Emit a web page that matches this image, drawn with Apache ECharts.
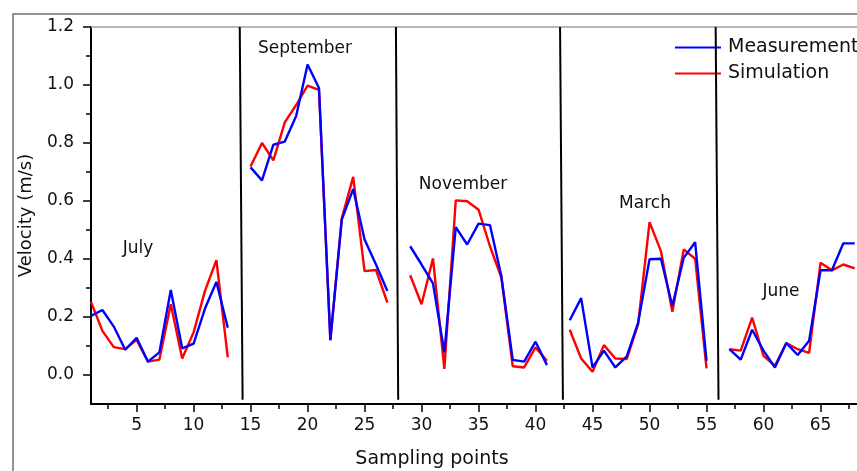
<!DOCTYPE html>
<html>
<head>
<meta charset="utf-8">
<title>Velocity: measurement vs simulation</title>
<script src="https://cdn.jsdelivr.net/npm/echarts@6/dist/echarts.min.js"></script>
<style>
  html, body { margin: 0; padding: 0; background: #fff; }
  #chart { width: 857px; height: 471px; }
</style>
</head>
<body>
<div id="chart"></div>
<script>
// sampling point numbers (gaps at 14, 28, 42, 56 separate the months)
const samplingPoints = [
  1, 2, 3, 4, 5, 6, 7, 8, 9, 10, 11, 12, 13, 14,
  15, 16, 17, 18, 19, 20, 21, 22, 23, 24, 25, 26, 27, 28,
  29, 30, 31, 32, 33, 34, 35, 36, 37, 38, 39, 40, 41, 42,
  43, 44, 45, 46, 47, 48, 49, 50, 51, 52, 53, 54, 55, 56,
  57, 58, 59, 60, 61, 62, 63, 64, 65, 66, 67, 68,
];

// velocity (m/s)
const measurement = [
  0.204, 0.224, 0.167, 0.087, 0.128, 0.046, 0.078, 0.293, 0.092, 0.108, 0.229, 0.321, 0.163, null,
  0.716, 0.671, 0.794, 0.805, 0.893, 1.071, 0.990, 0.120, 0.536, 0.641, 0.467, 0.381, 0.290, null,
  0.444, 0.381, 0.316, 0.078, 0.510, 0.450, 0.522, 0.517, 0.341, 0.052, 0.046, 0.115, 0.034, null,
  0.189, 0.265, 0.026, 0.084, 0.026, 0.064, 0.181, 0.399, 0.401, 0.238, 0.404, 0.458, 0.049, null,
  0.089, 0.053, 0.156, 0.084, 0.026, 0.110, 0.069, 0.118, 0.361, 0.361, 0.454, 0.454,
];

const simulation = [
  0.252, 0.152, 0.096, 0.089, 0.121, 0.046, 0.053, 0.244, 0.057, 0.147, 0.290, 0.396, 0.061, null,
  0.719, 0.800, 0.740, 0.871, 0.931, 0.998, 0.983, 0.120, 0.540, 0.683, 0.358, 0.362, 0.250, null,
  0.344, 0.244, 0.402, 0.021, 0.602, 0.599, 0.570, 0.444, 0.336, 0.030, 0.026, 0.095, 0.049, null,
  0.156, 0.057, 0.011, 0.103, 0.057, 0.055, 0.175, 0.527, 0.427, 0.218, 0.433, 0.401, 0.023, null,
  0.089, 0.084, 0.198, 0.066, 0.032, 0.110, 0.089, 0.076, 0.387, 0.361, 0.381, 0.368,
];

// month separators: x at top, x at bottom (they lean a little)
const dividers = [
  [14.05, 14.3],
  [27.75, 27.95],
  [42.15, 42.4],
  [55.8, 56.05],
];

const xTicks = [5, 10, 15, 20, 25, 30, 35, 40, 45, 50, 55, 60, 65];
const xMinorTicks = [2.5, 7.5, 12.5, 17.5, 22.5, 27.5, 32.5, 37.5, 42.5, 47.5, 52.5, 57.5, 62.5, 67.5];
const yTicks = [0, 0.2, 0.4, 0.6, 0.8, 1.0, 1.2];
const yMinorTicks = [0.1, 0.3, 0.5, 0.7, 0.9, 1.1];

const FONT = '"DejaVu Sans", "Liberation Sans", Arial, sans-serif';
const X_MIN = 1;
const X_MAX = 68.2;
const Y_MIN = -0.1;
const Y_MAX = 1.2;

const chart = echarts.init(document.getElementById('chart'), null, { renderer: 'canvas' });

const toPairs = (vals) => samplingPoints.map((x, i) => [x, vals[i]]);

const monthLabels = [
  { text: 'July', x: 138, y: 249 },
  { text: 'September', x: 305, y: 49 },
  { text: 'November', x: 463, y: 185 },
  { text: 'March', x: 645, y: 204 },
  { text: 'June', x: 781, y: 292 },
];

chart.setOption({
  animation: false,
  backgroundColor: '#fff',
  grid: {
    left: 91,
    right: 0,
    top: 27,
    bottom: 67,
  },
  legend: {
    data: ['Measurement', 'Simulation'],
    orient: 'vertical',
    left: 670,
    top: 33,
    icon: 'rect',
    itemWidth: 46,
    itemHeight: 2,
    itemGap: 7,
    textStyle: {
      fontFamily: FONT,
      fontSize: 19,
      color: '#111',
      padding: [0, 0, 0, 2],
    },
  },
  xAxis: [
    {
      type: 'value',
      min: X_MIN,
      max: X_MAX,
      position: 'bottom',
      axisLine: { onZero: false, lineStyle: { color: '#000', width: 2 } },
      axisTick: {
        customValues: xTicks,
        length: 8,
        lineStyle: { color: '#000', width: 1.5 },
      },
      axisLabel: {
        customValues: xTicks,
        fontFamily: FONT,
        fontSize: 17,
        color: '#111',
        margin: 13,
      },
      splitLine: { show: false },
    },
    {
      type: 'value',
      min: X_MIN,
      max: X_MAX,
      position: 'bottom',
      axisLine: { show: false, onZero: false },
      axisTick: {
        customValues: xMinorTicks,
        length: 5,
        lineStyle: { color: '#000', width: 1.5 },
      },
      axisLabel: { show: false },
      splitLine: { show: false },
    },
    {
      type: 'value',
      min: X_MIN,
      max: X_MAX,
      position: 'top',
      axisLine: { onZero: false, lineStyle: { color: '#a0a0a0', width: 1.5 } },
      axisTick: { show: false },
      axisLabel: { show: false },
      splitLine: { show: false },
    },
  ],
  yAxis: [
    {
      type: 'value',
      min: Y_MIN,
      max: Y_MAX,
      position: 'left',
      name: 'Velocity (m/s)',
      nameLocation: 'middle',
      nameGap: 56,
      nameTextStyle: { fontFamily: FONT, fontSize: 18, color: '#111' },
      axisLine: { onZero: false, lineStyle: { color: '#000', width: 2 } },
      axisTick: {
        customValues: yTicks,
        length: 8,
        lineStyle: { color: '#000', width: 1.5 },
      },
      axisLabel: {
        customValues: yTicks,
        formatter: (v) => v.toFixed(1),
        fontFamily: FONT,
        fontSize: 17,
        color: '#111',
        margin: 17,
      },
      splitLine: { show: false },
    },
    {
      type: 'value',
      min: Y_MIN,
      max: Y_MAX,
      position: 'left',
      axisLine: { show: false, onZero: false },
      axisTick: {
        customValues: yMinorTicks,
        length: 5,
        lineStyle: { color: '#000', width: 1.5 },
      },
      axisLabel: { show: false },
      splitLine: { show: false },
    },
  ],
  graphic: [
    {
      type: 'rect',
      z: -1,
      silent: true,
      shape: { x: 13, y: 14, width: 900, height: 500 },
      style: { fill: 'none', stroke: '#707070', lineWidth: 1.5 },
    },
    {
      type: 'text',
      x: 432,
      y: 459,
      silent: true,
      style: {
        text: 'Sampling points',
        fill: '#111',
        font: '19px ' + FONT,
        align: 'center',
        verticalAlign: 'middle',
      },
    },
  ].concat(monthLabels.map((m) => ({
    type: 'text',
    x: m.x,
    y: m.y,
    silent: true,
    style: {
      text: m.text,
      fill: '#111',
      font: '17px ' + FONT,
      align: 'center',
      verticalAlign: 'middle',
    },
  }))),
  series: [
    {
      name: 'Simulation',
      type: 'line',
      data: toPairs(simulation),
      xAxisIndex: 0,
      yAxisIndex: 0,
      symbol: 'none',
      connectNulls: false,
      z: 2,
      lineStyle: { color: '#ff0000', width: 2.4 },
      itemStyle: { color: '#ff0000' },
    },
    {
      name: 'Measurement',
      type: 'line',
      data: toPairs(measurement),
      xAxisIndex: 0,
      yAxisIndex: 0,
      symbol: 'none',
      connectNulls: false,
      z: 3,
      lineStyle: { color: '#0000ff', width: 2.4 },
      itemStyle: { color: '#0000ff' },
      markLine: {
        silent: true,
        symbol: ['none', 'none'],
        label: { show: false },
        lineStyle: { color: '#000', width: 2, type: 'solid' },
        data: dividers.map(([top, bottom]) => [
          { coord: [top, Y_MAX] },
          { coord: [bottom, -0.085] },
        ]),
      },
    },
  ],
});
</script>
</body>
</html>
